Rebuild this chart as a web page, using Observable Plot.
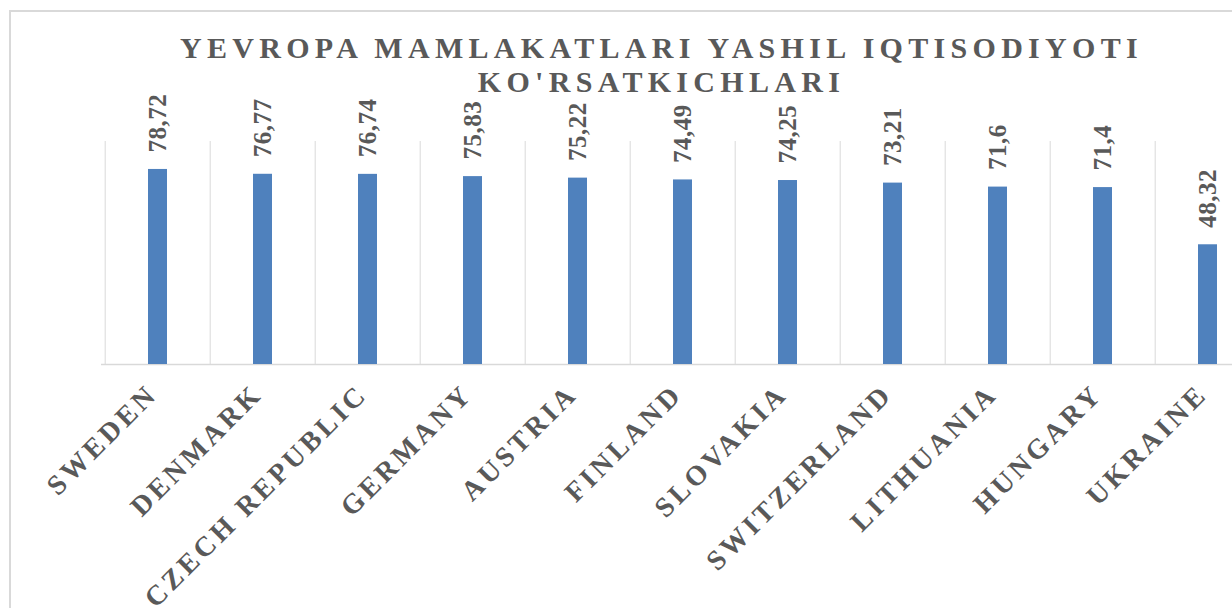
<!DOCTYPE html>
<html>
<head>
<meta charset="utf-8">
<script src="https://cdn.jsdelivr.net/npm/d3@7"></script>
<script src="https://cdn.jsdelivr.net/npm/@observablehq/plot@0.6"></script>
<style>
  html, body { margin: 0; padding: 0; background: #fff; overflow: hidden; width: 1232px; height: 608px; }
  #box { position: absolute; left: 9px; top: 10px; width: 2000px; height: 2000px; border: 2px solid #d9d9d9; box-sizing: border-box; }
  #title { position: absolute; left: 0; top: 31px; width: 1318px; padding-left: 5px; box-sizing: border-box; text-align: center;
    font-family: "Liberation Serif", "Times New Roman", serif; font-weight: bold; font-size: 30px; line-height: 34px;
    letter-spacing: 5.3px; color: #595959; }
  #chart { position: absolute; left: 0; top: 100px; }
</style>
</head>
<body>
<div id="box"></div>
<div id="title">YEVROPA MAMLAKATLARI YASHIL IQTISODIYOTI<br>KO'RSATKICHLARI</div>
<div id="chart"></div>
<script>
const countries = ["SWEDEN", "DENMARK", "CZECH REPUBLIC", "GERMANY", "AUSTRIA", "FINLAND", "SLOVAKIA", "SWITZERLAND", "LITHUANIA", "HUNGARY", "UKRAINE"];
const values = [78.72, 76.77, 76.74, 75.83, 75.22, 74.49, 74.25, 73.21, 71.6, 71.4, 48.32];
const valueLabels = ["78,72", "76,77", "76,74", "75,83", "75,22", "74,49", "74,25", "73,21", "71,6", "71,4", "48,32"];
const yDomain = [0, 90];

const data = countries.map((c, i) => ({country: c, value: values[i], label: valueLabels[i]}));

const xRange = [101, 1263];
const step = (xRange[1] - xRange[0]) / countries.length;
const serif = "Liberation Serif, Times New Roman, serif";

const chart = Plot.plot({
  width: 1232,
  height: 508,
  marginTop: 41,
  marginBottom: 244,
  marginLeft: 101,
  marginRight: 0,
  style: {background: "transparent", overflow: "visible"},
  x: {domain: countries, range: xRange, padding: 0, axis: null},
  y: {domain: yDomain, axis: null},
  marks: [
    Plot.ruleX(countries, {x: d => d, dx: -step / 2, stroke: "#d9d9d9", strokeWidth: 1}),
    Plot.ruleY([0], {stroke: "#d9d9d9", strokeWidth: 1.5}),
    Plot.barY(data, {x: "country", y: "value", fill: "#4f81bd", insetLeft: 43, insetRight: 43}),
    Plot.text(data, {x: "country", y: "value", text: "label", rotate: -90, textAnchor: "start", lineAnchor: "middle",
      dy: -17, fontSize: 25, fontWeight: "bold", fontFamily: serif, fill: "#595959"}),
    Plot.text(data, {x: "country", text: "country", frameAnchor: "bottom", rotate: -45, textAnchor: "end", lineAnchor: "top",
      dx: -13, dy: 17, fontSize: 28, fontWeight: "bold", fontFamily: serif, fill: "#595959"})
  ]
});
d3.select(chart).selectAll("text").each(function() {
  const t = this.getAttribute("transform") || "";
  if (t.includes("rotate(-45)")) {
    this.setAttribute("letter-spacing", "3.6");
    this.style.letterSpacing = "3.6px";
  } else if (t.includes("rotate(-90)")) {
    this.setAttribute("letter-spacing", "0.5");
    this.style.letterSpacing = "0.5px";
  }
});
document.getElementById("chart").appendChild(chart);
</script>
</body>
</html>
